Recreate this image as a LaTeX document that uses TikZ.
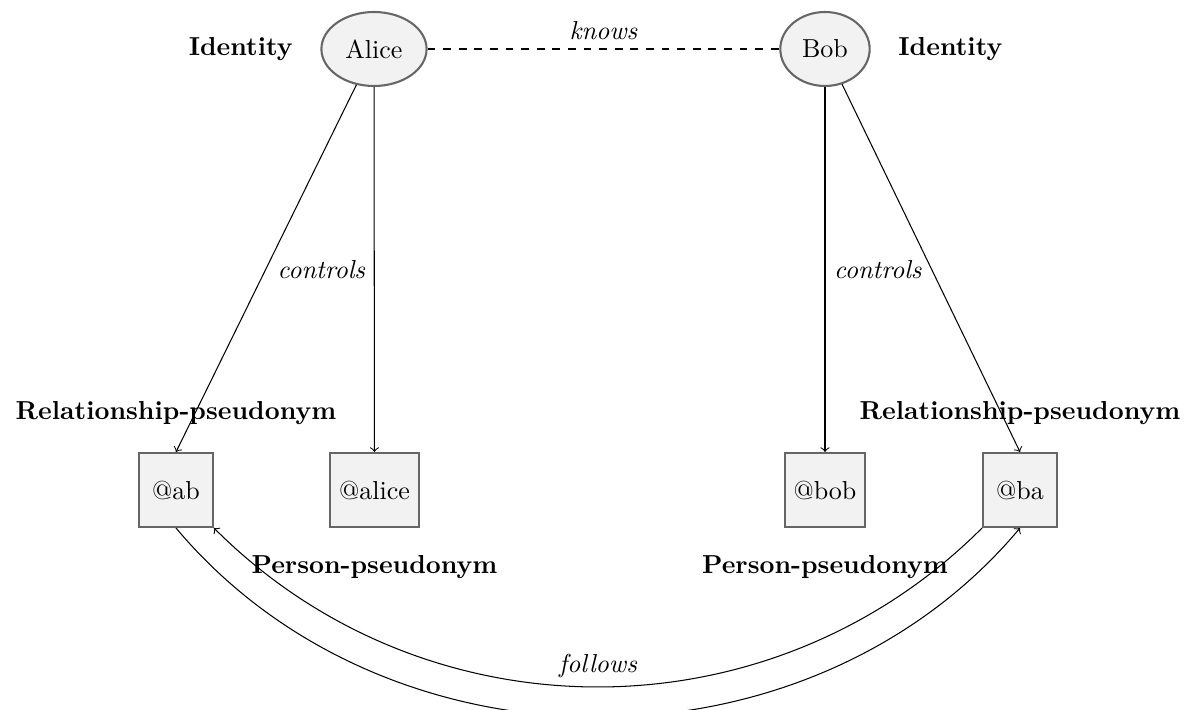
\documentclass[tikz,border=0pt]{standalone}
\usetikzlibrary{shapes.geometric}
\begin{document}
\begin{tikzpicture}[x=0.3846pt,y=-0.3846pt,
  identity/.style={ellipse, draw=black!60, thick, fill=black!5, minimum size=1cm},
  pseudo/.style={rectangle, draw=black!60, thick, fill=black!5, minimum size=1cm},
  rel/.style={font=\itshape},
  every label/.style={font=\bfseries},
  label distance=0.25cm]
  \useasboundingbox (0,0) rectangle (1185,710);

  % people
  \node[identity, label=left:Identity]  (alice) at (374,49) {Alice};
  \node[identity, label=right:Identity] (bob)   at (825,49) {Bob};

  % pseudonyms
  \node[pseudo, label=above:Relationship-pseudonym] (ab)     at (176,490)   {@ab};
  \node[pseudo, label=below:Person-pseudonym]       (alicep) at (374.5,490) {@alice};
  \node[pseudo, label=below:Person-pseudonym]       (bobp)   at (825,490)   {@bob};
  \node[pseudo, label=above:Relationship-pseudonym] (ba)     at (1020,490)  {@ba};

  % relations
  \draw[dashed] (alice) -- node[above, rel] {knows} (bob);
  \draw[->] (alice) -- (ab.north);
  \draw[->] (alice) -- node[left, rel] {controls} (alicep);
  \draw[->] (bob) -- node[right, rel] {controls} (bobp);
  \draw[->] (bob) -- (ba.north);
  \draw[->] (ab.south) to[bend right=50] (ba.south);
  \draw[->] (ba) to[bend left=45] node[above, rel] {follows} (ab);
\end{tikzpicture}
\end{document}
